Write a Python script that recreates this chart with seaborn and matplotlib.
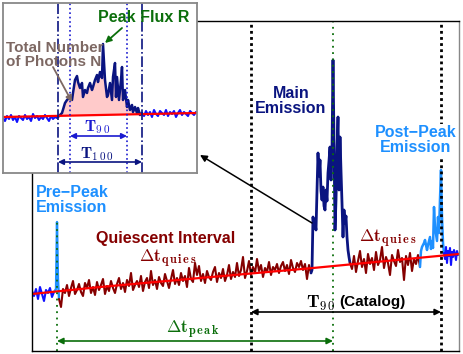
import numpy as np
import matplotlib
matplotlib.use("Agg")
import matplotlib.pyplot as plt
import seaborn as sns

sns.set_style("white")
plt.rcParams['font.family'] = ['Liberation Sans', 'DejaVu Sans']
plt.rcParams['font.weight'] = 'bold'
plt.rcParams['mathtext.fontset'] = 'cm'

# ---- main light curve (time bins, counts; arbitrary units) ----
pre_t = np.arange(32, 56, 2)
pre_c = [60, 55, 62, 52, 64, 57, 50, 61, 58, 63, 54, 59]

spike_t = [54, 56, 57, 58, 59]
spike_c = [59, 62, 129, 72, 52]

quies_t = np.arange(59, 312, 2)
quies_c = [52, 44, 62, 58, 66, 55, 63, 70, 57, 61,
           67, 59, 55, 68, 63, 71, 58, 64, 56, 69,
           61, 66, 72, 57, 65, 60, 70, 63, 58, 67,
           73, 62, 68, 59, 71, 65, 78, 61, 66, 70,
           64, 75, 60, 69, 73, 63, 80, 66, 71, 62,
           74, 68, 65, 77, 70, 63, 72, 81, 67, 73,
           66, 78, 70, 75, 64, 83, 72, 69, 88, 76,
           85, 70, 77, 68, 80, 74, 71, 79, 84, 69,
           78, 73, 82, 70, 76, 86, 72, 79, 74, 88,
           75, 81, 94, 73, 80, 90, 76, 84, 78, 92,
           80, 86, 74, 83, 79, 89, 76, 84, 81, 87,
           78, 85, 89, 80, 86, 77, 91, 83, 79, 88,
           84, 90, 81, 87, 72, 86, 78]

main_t = np.arange(311, 351)
main_c = [78, 81, 134, 125, 128, 121, 160, 198, 175, 191,
          160, 151, 164, 145, 141, 161, 150, 178, 190, 204,
          171, 200, 291, 210, 121, 151, 200, 234, 161, 214,
          180, 148, 114, 141, 128, 135, 114, 101, 94, 88]

quies2_t = np.arange(350, 421, 2)
quies2_c = [88, 82, 95, 79, 90, 100, 84, 92, 78, 97,
            87, 93, 81, 99, 86, 91, 104, 83, 94, 88,
            76, 96, 90, 85, 101, 89, 93, 71, 95, 86,
            98, 80, 92, 87, 96, 84]

post_t = [420, 421, 422, 424, 425, 427, 428, 430, 431, 432, 433,
          434, 435, 437, 438, 439, 440, 441, 442, 443, 444]
post_c = [84, 100, 104, 108, 111, 101, 106, 114, 102, 110, 103,
          144, 124, 110, 134, 118, 152, 181, 134, 108, 98]

tail_t = np.arange(444, 459)
tail_c = [98, 92, 104, 88, 100, 95, 103, 86, 99, 94, 101, 97, 91, 100, 96]

bkg_t = [32, 100, 200, 313, 459]
bkg_c = [57, 64, 73, 83, 97]

# ---- zoomed pulse (inset) ----
ins_pre_t = np.arange(3, 59, 2)
ins_pre_c = [55, 52, 57, 54, 58, 53, 56, 51, 57, 55, 53, 58, 54, 56,
             52, 59, 55, 57, 53, 56, 54, 58, 55, 52, 57, 54, 56, 55]
ins_t = [58, 62, 65, 67, 70, 72, 73, 75, 77, 78,
         80, 82, 83, 85, 87, 88, 90, 92, 93, 95,
         97, 98, 100, 102, 103, 105, 107, 108, 110, 112,
         113, 115, 116, 117, 119, 121, 122, 123, 125, 127,
         128, 130, 132, 133, 135, 137, 138, 140, 142]
ins_c = [56, 60, 70, 73, 76, 73, 80, 93, 97, 91,
         85, 90, 76, 83, 80, 85, 90, 83, 86, 93,
         98, 91, 101, 95, 129, 93, 76, 78, 90, 73,
         96, 110, 76, 96, 73, 93, 106, 73, 83, 66,
         73, 63, 68, 61, 66, 60, 65, 58, 60]
ins_post_t = np.arange(142, 198, 2)
ins_post_c = [60, 57, 62, 58, 61, 56, 63, 59, 57, 62, 60, 58, 63, 57,
              61, 59, 62, 56, 60, 63, 58, 61, 59, 57, 62, 60, 58, 61]
ins_bkg_t = [3, 197]
ins_bkg_c = [56, 60]

t100 = (58, 142)
t90 = (70, 127)

NAVY = "#0a1480"
BLUE = "#1010ff"
LBLUE = "#1e90ff"
DRED = "#850000"
GREEN = "#0b6e0b"
BROWN = "#7d6863"
T90BLUE = "#1a1ad0"

DT_QUIES = r"$\boldsymbol{\Delta}\mathbf{t}_{\mathbf{q\,u\,i\,e\,s}}$"
DT_PEAK = r"$\boldsymbol{\Delta}\mathbf{t}_{\mathbf{p\,e\,a\,k}}$"
T90_TXT = r"$\mathbf{T}_{\mathbf{9\,0}}$"
T100_TXT = r"$\mathbf{T}_{\mathbf{1\,0\,0}}$"

fig = plt.figure(figsize=(4.63, 3.54), dpi=100)
ax = fig.add_axes([32/463, 3/354, 427/463, 330/354])

sns.lineplot(x=pre_t, y=pre_c, color=BLUE, lw=1.5, ax=ax)
sns.lineplot(x=spike_t, y=spike_c, color=LBLUE, lw=1.7, ax=ax)
sns.lineplot(x=quies_t, y=quies_c, color=DRED, lw=1.5, ax=ax)
sns.lineplot(x=main_t, y=main_c, color=NAVY, lw=2.0, ax=ax)
sns.lineplot(x=quies2_t, y=quies2_c, color=DRED, lw=1.5, ax=ax)
sns.lineplot(x=post_t, y=post_c, color=LBLUE, lw=1.8, ax=ax)
sns.lineplot(x=tail_t, y=tail_c, color=BLUE, lw=1.5, ax=ax)
sns.lineplot(x=bkg_t, y=bkg_c, color="red", lw=1.6, ax=ax)

ax.axvline(251, color="black", ls=(0, (1, 1.2)), lw=2)
ax.axvline(441, color="black", ls=(0, (1, 1.2)), lw=2)
ax.axvline(333, color=GREEN, ls=(0, (1, 2.5)), lw=1.3)
ax.plot([57, 57], [0, 129], color=GREEN, ls=(0, (1, 2.5)), lw=1.3)

ax.annotate("", xy=(441, 39), xytext=(251, 39),
            arrowprops=dict(arrowstyle="<|-|>", color="black", lw=1.2,
                            mutation_scale=9, shrinkA=0, shrinkB=0))
ax.annotate("", xy=(333, 10), xytext=(57, 10),
            arrowprops=dict(arrowstyle="<|-|>", color=GREEN, lw=1.2,
                            mutation_scale=9, shrinkA=0, shrinkB=0))
ax.annotate("", xy=(200/463, 1 - 155/354), xycoords="figure fraction",
            xytext=(312, 128), textcoords="data",
            arrowprops=dict(arrowstyle="-|>", color="black", lw=1.1,
                            mutation_scale=10, shrinkA=0, shrinkB=0))

ax.text(36, 151, "Pre\u2212Peak\nEmission", color=LBLUE, fontsize=11.5,
        fontweight="bold", ha="left", va="center", linespacing=1.0)
ax.text(166, 113, "Quiescent Interval", color=DRED, fontsize=11.5,
        fontweight="bold", ha="center", va="center")
ax.text(168, 92, DT_QUIES, color=DRED, fontsize=12.5,
        ha="center", va="center")
ax.text(388, 112, DT_QUIES, color=DRED, fontsize=12.5,
        ha="center", va="center")
ax.text(291, 250, "Main\nEmission", color=NAVY, fontsize=11.5,
        fontweight="bold", ha="center", va="center", linespacing=1.0)
ax.text(416, 211, "Post\u2212Peak\nEmission", color=LBLUE, fontsize=11.5,
        fontweight="bold", ha="center", va="center", linespacing=1.0,
        bbox=dict(facecolor="white", edgecolor="none", pad=1))
ax.text(335, 48, T90_TXT, color="black", fontsize=13,
        ha="right", va="center")
ax.text(339, 49, "(Catalog)", color="black", fontsize=11,
        fontweight="bold", ha="left", va="center")
ax.text(193, 21, DT_PEAK, color=GREEN, fontsize=12.5,
        ha="center", va="center")

ax.set_xlim(32, 459)
ax.set_ylim(0, 330)
ax.set_xticks([])
ax.set_yticks([])
for s in ax.spines.values():
    s.set_color("black")
    s.set_linewidth(1)
ax.spines["right"].set_color("#888888")

# ---- inset ----
ins = fig.add_axes([3/463, (354 - 173)/354, 194/463, 170/354])
base = np.interp(ins_t, ins_bkg_t, ins_bkg_c)
ins.fill_between(ins_t, base, ins_c, where=np.array(ins_c) > base,
                 color="#ffcaca", lw=0)
sns.lineplot(x=ins_pre_t, y=ins_pre_c, color=BLUE, lw=1.5, ax=ins)
sns.lineplot(x=ins_t, y=ins_c, color=NAVY, lw=1.8, ax=ins)
sns.lineplot(x=ins_post_t, y=ins_post_c, color=BLUE, lw=1.5, ax=ins)
sns.lineplot(x=ins_bkg_t, y=ins_bkg_c, color="red", lw=1.6, ax=ins)

for xv in t100:
    ins.axvline(xv, color=NAVY, ls="-.", lw=1.2)
for xv in t90:
    ins.axvline(xv, color=T90BLUE, ls=":", lw=1.2)

ins.annotate("", xy=(t90[1], 37), xytext=(t90[0], 37),
             arrowprops=dict(arrowstyle="<|-|>", color=T90BLUE, lw=1.2,
                             mutation_scale=8, shrinkA=0, shrinkB=0))
ins.annotate("", xy=(t100[1], 11), xytext=(t100[0], 11),
             arrowprops=dict(arrowstyle="<|-|>", color=NAVY, lw=1.2,
                             mutation_scale=8, shrinkA=0, shrinkB=0))
ins.text(97, 46, T90_TXT, color=T90BLUE, fontsize=11.5,
         ha="center", va="center")
ins.text(97, 19, T100_TXT, color=NAVY, fontsize=11.5,
         ha="center", va="center")

ins.text(144, 155, "Peak Flux R", color=GREEN, fontsize=11.5,
         fontweight="bold", ha="center", va="center")
ins.annotate("", xy=(105, 130), xytext=(122, 145),
             arrowprops=dict(arrowstyle="-|>", color=GREEN, lw=1.3,
                             mutation_scale=9, shrinkA=0, shrinkB=0))
ins.text(6, 118.5, "Total Number\nof Photons N", color=BROWN, fontsize=11,
         fontweight="bold", ha="left", va="center", linespacing=1.0)
ins.annotate("", xy=(72, 71), xytext=(53, 106),
             arrowprops=dict(arrowstyle="-|>", color=BROWN, lw=1.3,
                             mutation_scale=9, shrinkA=0, shrinkB=0))

ins.set_xlim(3, 197)
ins.set_ylim(0, 170)
ins.set_xticks([])
ins.set_yticks([])
ins.set_xlabel("")
ins.set_ylabel("")
for s in ins.spines.values():
    s.set_color("#888888")
    s.set_linewidth(1.3)

fig.savefig("out.png", dpi=100)
